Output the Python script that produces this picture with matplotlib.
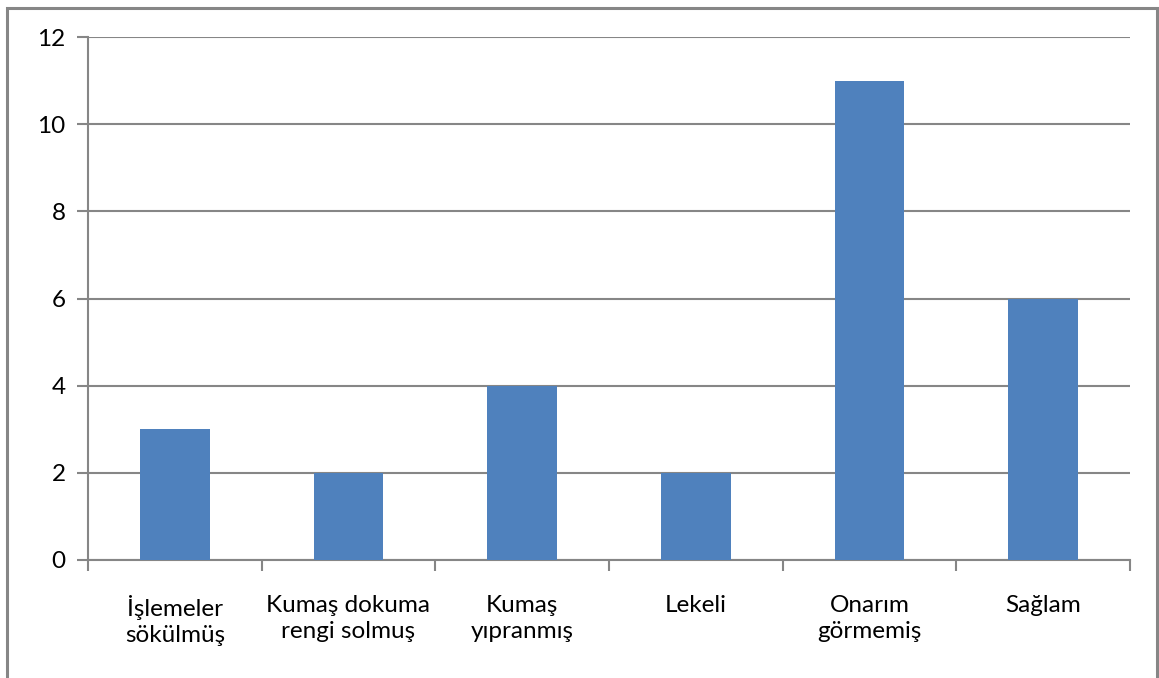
import matplotlib
matplotlib.use("Agg")
import matplotlib.pyplot as plt
from matplotlib.patches import Rectangle
import numpy as np

categories = ["İşlemeler\nsökülmüş", "Kumaş dokuma\nrengi solmuş", "Kumaş\nyıpranmış",
              "Lekeli", "Onarım\ngörmemiş", "Sağlam"]
values = [3, 2, 4, 2, 11, 6]
yticks = [0, 2, 4, 6, 8, 10, 12]

plt.rcParams['font.family'] = ['Lato', 'DejaVu Sans']

W, H = 1159, 678
dpi = 100
fig = plt.figure(figsize=(W / dpi, H / dpi), dpi=dpi)
fig.patch.set_facecolor("white")

gray = "#868686"
# outer border
fig.patches.append(Rectangle((7 / W, -0.05), (1157 - 7) / W, (H - 8) / H + 0.05,
                             transform=fig.transFigure, fill=False,
                             edgecolor=gray, linewidth=2.2))

left, right, top, bottom = 88, 1130, 37, 560
ax = fig.add_axes([left / W, 1 - bottom / H, (right - left) / W, (bottom - top) / H])

x = np.arange(len(categories))
ax.bar(x, values, width=0.4, color="#4F81BD", zorder=3)
ax.set_xlim(-0.5, len(categories) - 0.5)
ax.set_ylim(0, 12)
ax.set_yticks(yticks)
ax.yaxis.grid(True, color=gray, linewidth=1.5, zorder=0)

ax.set_xticks(x)
ax.set_xticklabels(categories, fontsize=17.5, linespacing=1.3)
ax.tick_params(axis='x', which='major', length=0, pad=25)
ax.set_xticks(np.arange(-0.5, len(categories), 1), minor=True)
ax.tick_params(axis='x', which='minor', length=8, width=1.5, color=gray, direction='out')
ax.tick_params(axis='y', length=8, width=1.5, color=gray, direction='out', labelsize=17.5, pad=8)

for s in ['top', 'right']:
    ax.spines[s].set_visible(False)
for s in ['left', 'bottom']:
    ax.spines[s].set_color(gray)
    ax.spines[s].set_linewidth(1.5)

fig.savefig("out.png", dpi=dpi, facecolor="white")
